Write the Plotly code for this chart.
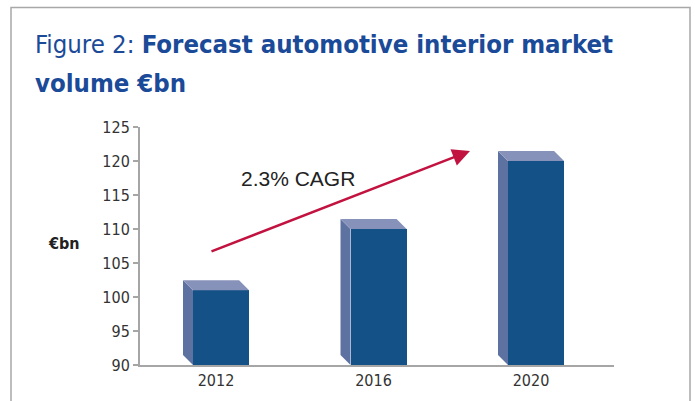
import plotly.graph_objects as go

categories = ["2012", "2016", "2020"]
values = [101, 110, 120]
y_ticks = [90, 95, 100, 105, 110, 115, 120, 125]
cagr_label = "2.3% CAGR"
title_line1 = "Figure 2: <b>Forecast automotive interior market</b>"
title_line2 = "<b>volume €bn</b>"
y_label = "<b>€bn</b>"

# geometry (data units)
positions = [0, 1, 2]
bar_width = 0.356
bar_offset = -0.146
depth_x = -0.0635
depth_y = 1.47
base = 90

front_col = "#145186"
side_col = "#5E72A2"
top_col = "#8792BA"

# pixel layout helpers
L, R, T, B = 140, 81, 127, 36
PW, PH = 695 - L - R, 401 - T - B


def px(x):
    return (x - L) / PW


def py(y):
    return (401 - B - y) / PH


fig = go.Figure()

for p, v in zip(positions, values):
    xl = p + bar_offset
    xr = xl + bar_width
    fig.add_trace(go.Scatter(
        x=[xl, xl + depth_x, xl + depth_x, xl, xl],
        y=[base, base + depth_y, v + depth_y, v, base],
        fill="toself", fillcolor=side_col, mode="lines",
        line=dict(width=0, color=side_col), hoverinfo="skip", showlegend=False))
    fig.add_trace(go.Scatter(
        x=[xl, xr, xr + depth_x, xl + depth_x, xl],
        y=[v, v, v + depth_y, v + depth_y, v],
        fill="toself", fillcolor=top_col, mode="lines",
        line=dict(width=0, color=top_col), hoverinfo="skip", showlegend=False))

fig.add_trace(go.Bar(
    x=positions, y=[v - base for v in values], base=base,
    width=bar_width, offset=bar_offset,
    marker=dict(color=front_col, line=dict(width=0)), showlegend=False))

cond = "DejaVu Sans Condensed, Arial Narrow, sans-serif"
tick_font = dict(family=cond, size=16, color="#333333")
title_font = dict(family=cond, size=25.5, color="#1A4A98")

fig.update_layout(
    template="none",
    width=695, height=401,
    margin=dict(l=L, r=R, t=T, b=B, autoexpand=False),
    paper_bgcolor="white", plot_bgcolor="white",
    bargap=0,
    xaxis=dict(
        range=[-0.4825, 2.527], tickvals=positions, ticktext=categories,
        showgrid=False, zeroline=False, showline=True, linecolor="#A6A6A6", linewidth=2,
        ticks="", tickfont=tick_font, fixedrange=True, automargin=False),
    yaxis=dict(
        range=[90, 125], tickvals=y_ticks, showgrid=False, zeroline=False,
        showline=True, linecolor="#A6A6A6", linewidth=2,
        ticks="outside", ticklen=5, tickcolor="#A6A6A6", tickwidth=2,
        tickfont=tick_font, automargin=False),
    shapes=[dict(type="rect", xref="paper", yref="paper",
                 x0=px(11), x1=px(690), y0=py(430), y1=py(7.5),
                 line=dict(color="#A8A8A8", width=1.5), layer="below")],
    annotations=[
        dict(text=title_line1, xref="paper", yref="paper", x=px(33), y=py(44),
             xanchor="left", yanchor="middle", showarrow=False, font=title_font),
        dict(text=title_line2, xref="paper", yref="paper", x=px(33), y=py(83),
             xanchor="left", yanchor="middle", showarrow=False, font=title_font),
        dict(text=y_label, xref="paper", yref="paper", xanchor="center", yanchor="middle",
             x=px(64), y=py(243), showarrow=False,
             font=dict(family=cond, size=16, color="#222222")),
        dict(text=cagr_label, xref="x", yref="y", x=(298 - 216) / 157.5, y=90 + (365 - 178) / 6.8,
             showarrow=False, font=dict(family="Liberation Sans, Arial, sans-serif", size=21, color="#222222")),
        dict(text="", xref="x", yref="y", axref="x", ayref="y",
             x=(470 - 216) / 157.5, y=90 + (365 - 151) / 6.8,
             ax=(210 - 216) / 157.5, ay=90 + (365 - 252) / 6.8,
             showarrow=True, arrowhead=2, arrowsize=1.4, arrowwidth=2.5, arrowcolor="#C2123F",
             standoff=0),
    ],
)

fig.write_html("out.html", config={"displayModeBar": False},
               post_script="document.body.style.margin='0';")
